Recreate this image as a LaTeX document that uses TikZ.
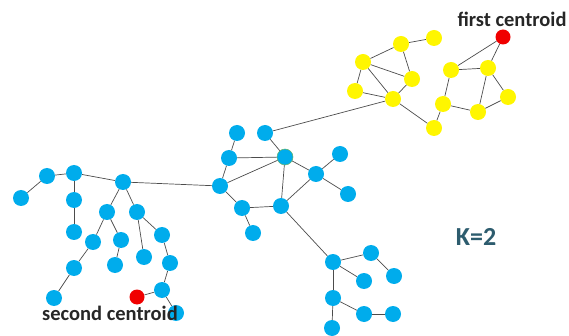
\documentclass[tikz,border=0pt]{standalone}
\usepackage{fontspec}
\setmainfont{Carlito}
\definecolor{ptblue}{RGB}{0,172,236}
\definecolor{ptyellow}{RGB}{255,246,0}
\definecolor{ptred}{RGB}{240,0,0}
\definecolor{kteal}{RGB}{45,92,110}
\begin{document}
\begin{tikzpicture}[x=1pt, y=-1pt,
        pt/.style={circle, inner sep=0pt, minimum size=16pt},
        bpt/.style={pt, fill=ptblue},
        ypt/.style={pt, fill=ptyellow},
        cpt/.style={pt, fill=ptred, minimum size=15pt},
        link/.style={draw=black!70, line width=0.7pt},
        lbl/.style={font=\bfseries\fontsize{20.5}{22}\selectfont, text=black!85}]
        \useasboundingbox (0,0) rectangle (569,336);
        % yellow cluster
        \node[ypt] (y1) at (434, 38) {};
        \node[ypt] (y2) at (401, 44) {};
        \node[ypt] (y3) at (363, 62) {};
        \node[ypt] (y4) at (412, 79) {};
        \node[ypt] (y5) at (355, 91) {};
        \node[ypt] (y6) at (393, 99) {};
        \node[ypt] (y7) at (434,128) {};
        \node[ypt] (y8) at (451, 70) {};
        \node[ypt] (y9) at (488, 68) {};
        \node[ypt] (y10) at (508, 97) {};
        \node[ypt] (y11) at (443,104) {};
        \node[ypt] (y12) at (478,112) {};
        \node[cpt] (fc) at (503, 37) {};
        % middle blue cluster
        \node[bpt] (c1) at (237,133) {};
        \node[bpt] (c2) at (265,133) {};
        \node[bpt] (c3) at (229,158) {};
        \node[bpt, draw=green!50!black!60, line width=0.5pt] (c4) at (285,157) {};
        \node[bpt] (c5) at (340,154) {};
        \node[bpt] (c6) at (316,174) {};
        \node[bpt] (c7) at (220,186) {};
        \node[bpt] (c8) at (348,194) {};
        \node[bpt] (c9) at (242,208) {};
        \node[bpt] (c10) at (281,206) {};
        \node[bpt] (c11) at (253,233) {};
        % left blue cluster
        \node[bpt] (l1) at (21,198) {};
        \node[bpt] (l2) at (47,176) {};
        \node[bpt] (l3) at (74,173) {};
        \node[bpt] (l4) at (123,182) {};
        \node[bpt] (l5) at (74,200) {};
        \node[bpt] (l6) at (74,232) {};
        \node[bpt] (l7) at (107,212) {};
        \node[bpt] (l8) at (137,212) {};
        \node[bpt] (l9) at (93,242) {};
        \node[bpt] (l10) at (121,240) {};
        \node[bpt] (l11) at (162,235) {};
        \node[bpt] (l12) at (74,268) {};
        \node[bpt] (l13) at (115,265) {};
        \node[bpt] (l14) at (144,257) {};
        \node[bpt] (l15) at (170,263) {};
        \node[bpt] (l16) at (54,298) {};
        \node[bpt] (l17) at (162,290) {};
        \node[bpt] (l18) at (176,313) {};
        \node[cpt] (sc) at (137,297) {};
        % lower blue cluster
        \node[bpt] (d1) at (333,262) {};
        \node[bpt] (d2) at (371,253) {};
        \node[bpt] (d3) at (364,281) {};
        \node[bpt] (d4) at (394,276) {};
        \node[bpt] (d5) at (333,298) {};
        \node[bpt] (d6) at (364,314) {};
        \node[bpt] (d7) at (393,314) {};
        \node[bpt] (d8) at (332,328) {};
        % edges
        \foreach \a/\b in {y2/y1, y3/y2, y2/y4, y3/y5, y3/y4, y3/y6, y5/y6, y4/y6,
                y6/y7, y7/y11, y11/y8, y8/y9, y8/fc, fc/y9, y9/y10, y9/y12, y11/y12,
                y12/y10, y6/c2,
                c1/c3, c2/c4, c3/c4, c3/c7, c7/c4, c4/c6, c4/c10, c6/c5, c6/c8,
                c6/c10, c7/c9, c9/c10, c9/c11, c10/d1, c7/l4,
                l1/l2, l2/l3, l3/l4, l3/l5, l5/l6, l4/l7, l4/l8, l7/l9, l7/l10,
                l10/l13, l9/l12, l12/l16, l8/l14, l8/l11, l11/l15, l15/l17,
                l17/sc, l17/l18,
                d1/d2, d2/d4, d1/d3, d1/d5, d5/d6, d6/d7, d5/d8}
            \draw[link] (\a) -- (\b);
        % labels
        \node[lbl] (fclbl) at (512,19) {first centroid};
        \node[lbl] (sclbl) at (110,313) {second centroid};
        \node[font=\bfseries\fontsize{26}{28}\selectfont, text=kteal] (k) at (476,237) {K=2};
    \end{tikzpicture}
\end{document}
